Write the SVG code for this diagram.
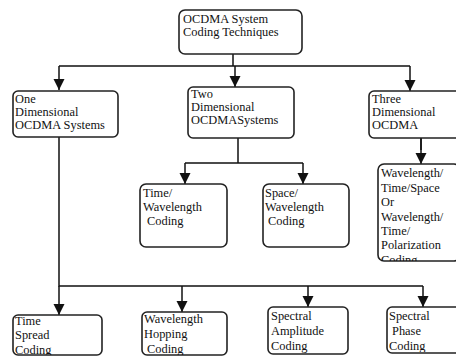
<svg xmlns="http://www.w3.org/2000/svg" width="456" height="356" viewBox="0 0 456 356">
<style>
.box{fill:#fff;stroke:#222;stroke-width:1.6}
.t{font-family:"Liberation Serif","Times New Roman",serif;font-size:12.4px;fill:#111}
.c{fill:none;stroke:#111;stroke-width:1.5}
</style>
<defs>
<marker id="ar" markerUnits="userSpaceOnUse" markerWidth="12" markerHeight="12" refX="11" refY="6" orient="auto">
<path d="M0,0.5 L11,6 L0,11.5 z" fill="#111"/>
</marker>
<clipPath id="c1"><rect x="378" y="164" width="80" height="97"/></clipPath>
<clipPath id="c2"><rect x="13" y="315" width="89" height="40"/></clipPath>
<clipPath id="c3"><rect x="142" y="312" width="85" height="43"/></clipPath>
<clipPath id="c4"><rect x="268" y="307" width="80" height="46"/></clipPath>
<clipPath id="c5"><rect x="387" y="307" width="72" height="45"/></clipPath>
</defs>
<rect width="456" height="356" fill="#fff"/>
<g id="connectors">
<path class="c" d="M233,54 V66 M59,66 H410 M421,138 V150 M238,138 V163 M185,163 H303 M59,137 V286 H423"/>
<path class="c" d="M59,66 V90" marker-end="url(#ar)"/>
<path class="c" d="M235,66 V87" marker-end="url(#ar)"/>
<path class="c" d="M410,66 V91" marker-end="url(#ar)"/>
<path class="c" d="M421,138 V164" marker-end="url(#ar)"/>
<path class="c" d="M185,163 V184" marker-end="url(#ar)"/>
<path class="c" d="M303,163 V184" marker-end="url(#ar)"/>
<path class="c" d="M59,286 V315" marker-end="url(#ar)"/>
<path class="c" d="M182,286 V312" marker-end="url(#ar)"/>
<path class="c" d="M308,286 V307" marker-end="url(#ar)"/>
<path class="c" d="M423,286 V307" marker-end="url(#ar)"/>
</g>
<g id="root">
<rect class="box" x="179" y="10" width="123" height="44" rx="6"/>
<text class="t" x="183" y="23">OCDMA System</text>
<text class="t" x="183" y="36">Coding Techniques</text>
</g>
<g id="one">
<rect class="box" x="13" y="91" width="105" height="46" rx="5"/>
<text class="t" x="15" y="103">One</text>
<text class="t" x="15" y="116">Dimensional</text>
<text class="t" x="15" y="129">OCDMA Systems</text>
</g>
<g id="two">
<rect class="box" x="188" y="87" width="106" height="51" rx="5"/>
<text class="t" x="191" y="98">Two</text>
<text class="t" x="191" y="111">Dimensional</text>
<text class="t" x="191" y="124">OCDMASystems</text>
</g>
<g id="three">
<rect class="box" x="369" y="91" width="92" height="47" rx="5"/>
<text class="t" x="372" y="103">Three</text>
<text class="t" x="372" y="116">Dimensional</text>
<text class="t" x="372" y="129">OCDMA</text>
</g>
<g id="timewave">
<rect class="box" x="140" y="184" width="87" height="63" rx="6"/>
<text class="t" x="143" y="197">Time/</text>
<text class="t" x="143" y="211">Wavelength</text>
<text class="t" x="147" y="225">Coding</text>
</g>
<g id="spacewave">
<rect class="box" x="263" y="184" width="86" height="63" rx="6"/>
<text class="t" x="265" y="197">Space/</text>
<text class="t" x="265" y="211">Wavelength</text>
<text class="t" x="268" y="225">Coding</text>
</g>
<g id="wtsp">
<rect class="box" x="378" y="164" width="82" height="97" rx="6"/>
<g clip-path="url(#c1)">
<text class="t" x="381" y="177">Wavelength/</text>
<text class="t" x="381" y="192">Time/Space</text>
<text class="t" x="381" y="206">Or</text>
<text class="t" x="381" y="221">Wavelength/</text>
<text class="t" x="381" y="235">Time/</text>
<text class="t" x="381" y="249">Polarization</text>
<text class="t" x="381" y="264">Coding</text>
</g>
</g>
<g id="timespread">
<rect class="box" x="13" y="315" width="89" height="40" rx="5"/>
<g clip-path="url(#c2)">
<text class="t" x="15" y="325">Time</text>
<text class="t" x="15" y="339">Spread</text>
<text class="t" x="15" y="354">Coding</text>
</g>
</g>
<g id="wavehop">
<rect class="box" x="142" y="312" width="85" height="43" rx="5"/>
<g clip-path="url(#c3)">
<text class="t" x="144" y="323">Wavelength</text>
<text class="t" x="144" y="338">Hopping</text>
<text class="t" x="147" y="353">Coding</text>
</g>
</g>
<g id="specamp">
<rect class="box" x="268" y="307" width="80" height="47" rx="5"/>
<g clip-path="url(#c4)">
<text class="t" x="271" y="320">Spectral</text>
<text class="t" x="271" y="335">Amplitude</text>
<text class="t" x="271" y="350">Coding</text>
</g>
</g>
<g id="specphase">
<rect class="box" x="387" y="307" width="75" height="46" rx="5"/>
<g clip-path="url(#c5)">
<text class="t" x="389" y="320">Spectral</text>
<text class="t" x="392" y="335">Phase</text>
<text class="t" x="389" y="350">Coding</text>
</g>
</g>
</svg>
